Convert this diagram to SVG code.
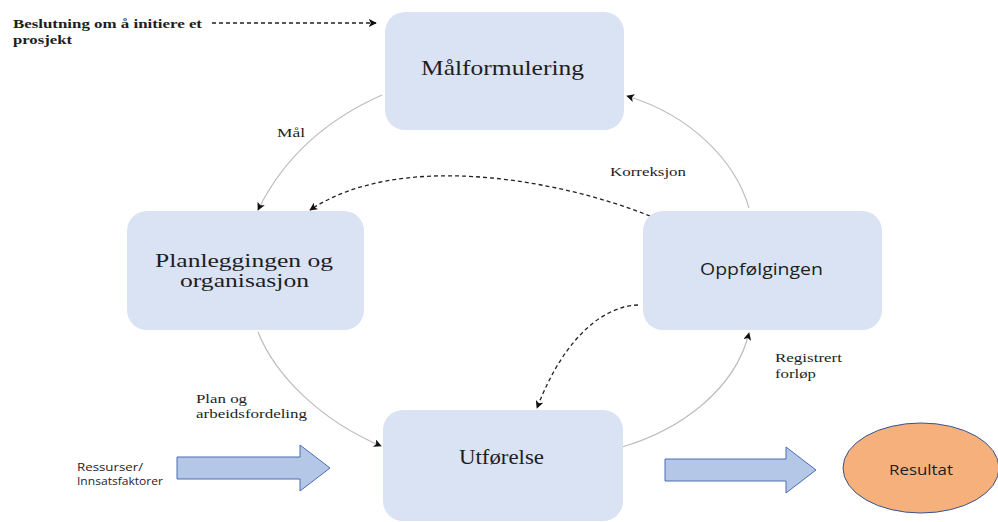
<svg xmlns="http://www.w3.org/2000/svg" width="998" height="522" viewBox="0 0 998 522">
  <defs>
    <marker id="head" viewBox="0 0 10 10" refX="9" refY="5" markerWidth="8" markerHeight="8" markerUnits="userSpaceOnUse" orient="auto">
      <path d="M0,0 L10,5 L0,10 L2.5,5 Z" fill="#111"/>
    </marker>
    <marker id="headBig" viewBox="0 0 10 10" refX="9" refY="5" markerWidth="10" markerHeight="10" markerUnits="userSpaceOnUse" orient="auto">
      <path d="M0,0 L10,5 L0,10 L2.5,5 Z" fill="#111"/>
    </marker>
    <style>
      .box { fill: #dae3f3; stroke: none; }
      .serif { font-family: "Liberation Serif", "Times New Roman", serif; fill: #1e1e1e; }
      .sans { font-family: "Open Sans", "Liberation Sans", Arial, sans-serif; fill: #1e1e1e; }
      .title { font-size: 21px; }
      .label { font-size: 13.5px; }
      .flow { fill: none; stroke: #bdbdbd; stroke-width: 1.2; marker-end: url(#head); }
      .dash { fill: none; stroke: #222; stroke-width: 1.3; stroke-dasharray: 4 3; marker-end: url(#head); }
      .block { fill: #b4c7e7; stroke: #4a6db3; stroke-width: 1; }
    </style>
  </defs>

  <rect width="998" height="522" fill="#ffffff"/>

  <!-- connectors -->
  <g id="connectors">
    <line class="dash" x1="212" y1="23" x2="376" y2="23" stroke-dasharray="6 4" marker-end="url(#headBig)"/>
    <path id="mal" class="flow" d="M382,95 C330,118 285,155 258,210"/>
    <path id="korreksjon" class="dash" d="M650,216 C560,180 400,150 310,210"/>
    <path id="retur" class="flow" d="M749,208 C735,160 690,115 627,96"/>
    <path id="styring" class="dash" d="M638,305 C605,306 565,335 537,408"/>
    <path id="plan" class="flow" d="M258,332 C275,375 320,420 381,446"/>
    <path id="registrert" class="flow" d="M622,447 C680,430 735,390 749,333"/>
    <!-- block arrows: inputs and outputs -->
    <polygon class="block" points="177,457 300,457 300,445 330,468 300,491 300,479 177,479"/>
    <polygon class="block" points="665,459 786,459 786,447 816,470 786,493 786,481 665,481"/>
  </g>

  <!-- nodes -->
  <g id="node-malformulering">
    <rect class="box" x="385" y="12" width="239" height="118" rx="20"/>
    <text class="serif title" x="421" y="75" textLength="163" lengthAdjust="spacingAndGlyphs">Målformulering</text>
  </g>

  <g id="node-planlegging">
    <rect class="box" x="127" y="211" width="237" height="119" rx="20"/>
    <text class="serif" x="155" y="267" font-size="19" textLength="178" lengthAdjust="spacingAndGlyphs">Planleggingen og</text>
    <text class="serif" x="180" y="287" font-size="19" textLength="129" lengthAdjust="spacingAndGlyphs">organisasjon</text>
  </g>

  <g id="node-oppfolging">
    <rect class="box" x="643" y="211" width="239" height="119" rx="20"/>
    <text class="sans" x="700" y="275" font-size="17" textLength="123" lengthAdjust="spacingAndGlyphs">Oppfølgingen</text>
  </g>

  <g id="node-utforelse">
    <rect class="box" x="383" y="410" width="240" height="111" rx="20"/>
    <text class="serif title" x="459" y="464" textLength="85" lengthAdjust="spacingAndGlyphs">Utførelse</text>
  </g>

  <g id="node-resultat">
    <ellipse cx="921" cy="468" rx="78" ry="45" fill="#f6b07c" stroke="#35558f" stroke-width="1"/>
    <text class="sans" x="889" y="475" font-size="14" textLength="64" lengthAdjust="spacingAndGlyphs">Resultat</text>
  </g>

  <!-- labels -->
  <g id="labels">
    <text class="serif" x="13" y="28" font-size="13.5" font-weight="bold" textLength="189" lengthAdjust="spacingAndGlyphs">Beslutning om å initiere et</text>
    <text class="serif" x="13" y="44" font-size="13.5" font-weight="bold" textLength="59" lengthAdjust="spacingAndGlyphs">prosjekt</text>
    <text class="serif label" x="277" y="137" textLength="28" lengthAdjust="spacingAndGlyphs">Mål</text>
    <text class="serif label" x="610" y="176" textLength="76" lengthAdjust="spacingAndGlyphs">Korreksjon</text>
    <text class="serif label" x="775" y="362" textLength="67" lengthAdjust="spacingAndGlyphs">Registrert</text>
    <text class="serif label" x="775" y="378" textLength="41" lengthAdjust="spacingAndGlyphs">forløp</text>
    <text class="serif label" x="196" y="403" textLength="51" lengthAdjust="spacingAndGlyphs">Plan og</text>
    <text class="serif label" x="196" y="418" textLength="111" lengthAdjust="spacingAndGlyphs">arbeidsfordeling</text>
    <text class="sans" x="77" y="471" font-size="11" textLength="66" lengthAdjust="spacingAndGlyphs">Ressurser/</text>
    <text class="sans" x="77" y="485" font-size="11" textLength="86" lengthAdjust="spacingAndGlyphs">Innsatsfaktorer</text>
  </g>
</svg>
